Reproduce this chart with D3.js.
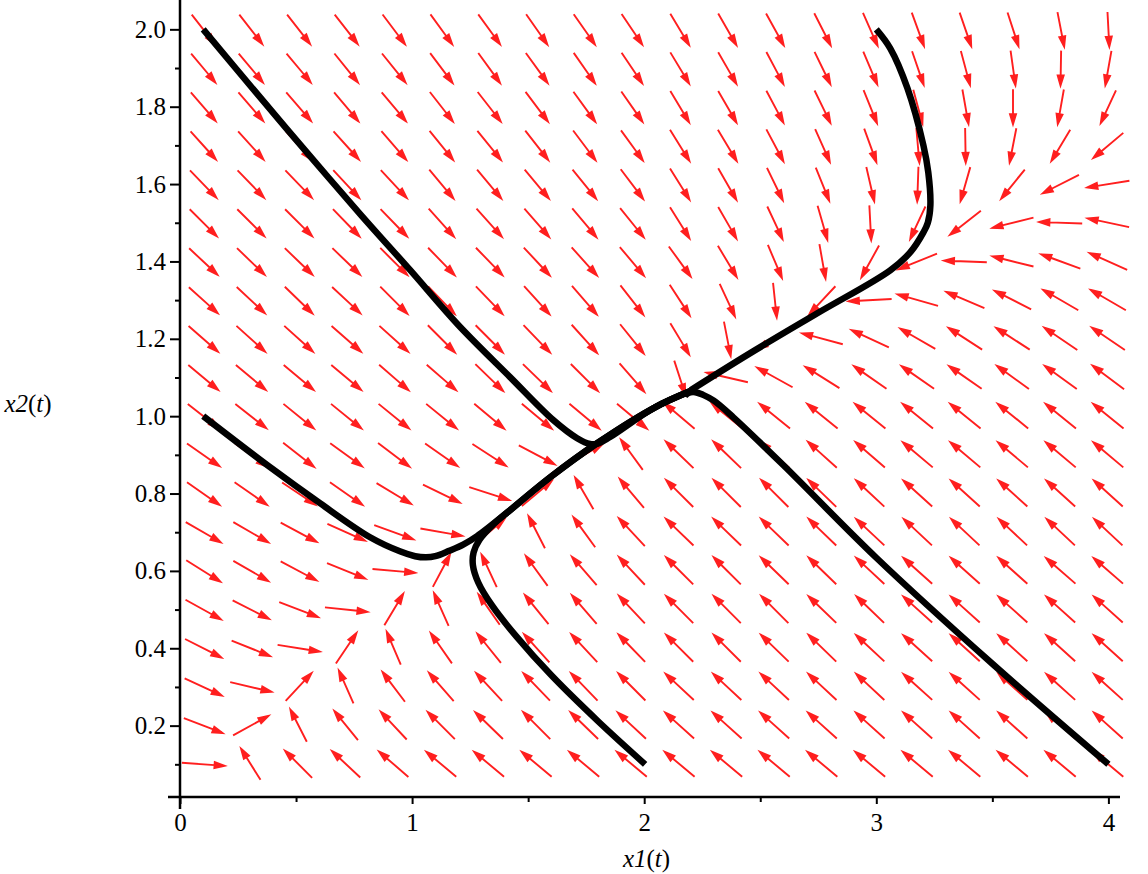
<!DOCTYPE html>
<html>
<head>
<meta charset="utf-8">
<script src="https://cdn.jsdelivr.net/npm/d3@7"></script>
<style>
  body { margin: 0; background: #fff; }
  text { font-family: "Liberation Serif", "Times New Roman", serif; fill: #000; }
</style>
</head>
<body>
<svg id="chart"></svg>
<script>
// arrow grid (20 x 20), x1 across, x2 rows listed top to bottom
const x1Grid = [0.1, 0.305, 0.511, 0.716, 0.921, 1.126, 1.332, 1.537, 1.742, 1.947,
                2.153, 2.358, 2.563, 2.768, 2.974, 3.179, 3.384, 3.589, 3.795, 4.0];
const x2Grid = [2.0, 1.9, 1.8, 1.7, 1.6, 1.5, 1.4, 1.3, 1.2, 1.1,
                1.0, 0.9, 0.8, 0.7, 0.6, 0.5, 0.4, 0.3, 0.2, 0.1];

// direction of each arrow as seen on the plot, degrees (0 = right, 90 = up)
const arrowAngles = [
  [-52,-52,-52,-52,-53,-54,-54,-55,-55,-56,-59,-60,-61,-63,-66,-70,-71,-72,-79,-87],
  [-50,-50,-50,-51,-51,-53,-54,-54,-55,-56,-59,-60,-62,-64,-67,-71,-75,-82,-91,-100],
  [-49,-49,-49,-50,-50,-52,-52,-53,-54,-55,-59,-60,-62,-64,-68,-75,-80,-90,-100,-115],
  [-48,-48,-48,-48,-49,-51,-51,-52,-53,-54,-58,-59,-62,-66,-70,-85,-89,-101,-121,-140],
  [-46,-46,-46,-47,-47,-50,-50,-50,-51,-53,-58,-60,-64,-68,-77,-92,-106,-129,-153,-171],
  [-45,-45,-45,-46,-46,-48,-48,-49,-50,-51,-58,-60,-65,-74,-87,-115,-142,-166,178,168],
  [-43,-44,-44,-44,-45,-46,-46,-47,-48,-50,-54,-59,-67,-80,-119,-158,178,166,160,156],
  [-42,-43,-44,-43,-45,-46,-46,-48,-49,-52,-57,-65,-84,-133,-177,164,157,153,150,150],
  [-41,-42,-42,-41,-42,-45,-45,-46,-48,-51,-59,-79,-150,165,155,150,147,147,146,146],
  [-40,-40,-40,-40,-41,-41,-44,-44,-45,-49,-72,167,151,148,145,145,145,144,144,143],
  [-38,-38,-39,-39,-39,-39,-40,-40,-40,-40,140,141,141,141,141,141,141,141,141,141],
  [-35,-36,-38,-36,-37,-35,-33,-28,30,126,136,136,138,138,139,140,140,140,140,140],
  [-35,-35,-34,-35,-31,-26,-18,40,120,130,135,135,135,136,137,138,138,138,138,138],
  [-30,-30,-28,-24,-20,-10,40,117,126,133,136,136,136,136,137,137,137,137,137,137],
  [-32,-30,-28,-22,-5,62,115,126,131,133,135,135,136,136,137,138,138,138,139,139],
  [-29,-27,-21,-6,59,114,125,129,131,133,135,135,135,136,136,138,138,138,138,138],
  [-27,-22,-9,56,113,125,129,132,133,134,135,135,136,136,137,138,138,138,138,138],
  [-25,-13,47,114,127,131,133,134,134,135,137,137,137,137,137,138,138,138,138,138],
  [-21,29,117,129,133,135,136,135,136,137,138,138,138,138,138,138,138,138,138,138],
  [-4,122,135,137,139,140,140,140,140,140,140,140,140,140,140,140,140,140,140,140]
];

// solution curves [x1, x2]
const trajFromTopLeft = [[0.1,2.0],[0.33,1.835],[0.552,1.678],[0.78,1.52],[0.991,1.378],[1.2,1.235],
  [1.422,1.101],[1.608,0.99],[1.711,0.943],[1.767,0.928],[1.80,0.929],[1.853,0.946],[2.047,1.023],[2.2,1.065]];
const trajFromLeft = [[0.1,1.0],[0.388,0.868],[0.603,0.775],[0.819,0.687],[0.95,0.65],[1.013,0.638],
  [1.06,0.635],[1.10,0.638],[1.16,0.652],[1.22,0.668],[1.28,0.69],[1.422,0.757],[1.595,0.842],
  [1.797,0.93],[2.047,1.023],[2.2,1.065]];
const trajFromBottom = [[2.004,0.1],[1.8,0.212],[1.6,0.33],[1.45,0.43],[1.345,0.51],[1.285,0.57],
  [1.262,0.615],[1.265,0.648],[1.29,0.68],[1.35,0.72],[1.422,0.757],[1.595,0.842],[1.797,0.93],
  [2.047,1.023],[2.2,1.065]];
const trajFromBottomRight = [[4.0,0.1],[3.5,0.36],[3.0,0.634],[2.6,0.873],[2.384,0.997],
  [2.3,1.04],[2.254,1.055],[2.22,1.062],[2.19,1.06],[2.175,1.052]];
const trajFromTop = [[3.0,2.0],[3.06,1.951],[3.134,1.848],[3.203,1.7],[3.224,1.63],[3.233,1.545],
  [3.222,1.5],[3.203,1.475],[3.147,1.424],[3.06,1.377],[2.746,1.266],[2.457,1.163],[2.2,1.067]];

const xTicks = [0, 1, 2, 3, 4];
const xMinorTicks = [0.5, 1.5, 2.5, 3.5];
const yTicks = [0.2, 0.4, 0.6, 0.8, 1.0, 1.2, 1.4, 1.6, 1.8, 2.0];
const yMinorTicks = [0.1, 0.3, 0.5, 0.7, 0.9, 1.1, 1.3, 1.5, 1.7, 1.9];

class PhasePlot {
  constructor(_config) {
    this.config = {
      parentElement: _config.parentElement,
      containerWidth: _config.containerWidth || 1148,
      containerHeight: _config.containerHeight || 874,
      margin: { top: 10, right: 28, bottom: 77, left: 180 }
    };
    this.initVis();
  }

  initVis() {
    let vis = this;
    vis.width = vis.config.containerWidth - vis.config.margin.left - vis.config.margin.right;
    vis.height = vis.config.containerHeight - vis.config.margin.top - vis.config.margin.bottom;

    vis.xScale = d3.scaleLinear().domain([0, 4.05]).range([0, vis.width]);
    vis.yScale = d3.scaleLinear().domain([0.0155, 2.05]).range([vis.height, 0]);

    vis.svg = d3.select(vis.config.parentElement)
      .attr('width', vis.config.containerWidth)
      .attr('height', vis.config.containerHeight);

    vis.chart = vis.svg.append('g')
      .attr('transform', `translate(${vis.config.margin.left},${vis.config.margin.top})`);

    vis.renderVis();
  }

  renderVis() {
    let vis = this;

    // direction field
    const cellX = vis.xScale(x1Grid[1]) - vis.xScale(x1Grid[0]);
    const cellY = vis.yScale(x2Grid[1]) - vis.yScale(x2Grid[0]);
    const arrows = [];
    x2Grid.forEach((y, r) => {
      x1Grid.forEach((x, c) => arrows.push({ x, y, a: arrowAngles[r][c] }));
    });

    const arrowPath = d => {
      const t = d.a * Math.PI / 180;
      const ux = Math.cos(t), uy = -Math.sin(t);
      const len = 0.9 / Math.hypot(ux / cellX, uy / cellY);
      const cx = vis.xScale(d.x), cy = vis.yScale(d.y);
      const x0 = cx - ux * len / 2, y0 = cy - uy * len / 2;
      const x1 = cx + ux * len / 2, y1 = cy + uy * len / 2;
      const hl = 10, hw = 3;
      const bx = x1 - ux * hl, by = y1 - uy * hl;
      return `M${x0},${y0}L${bx},${by}` +
        `M${x1},${y1}L${bx - uy * hw},${by + ux * hw}L${bx + uy * hw},${by - ux * hw}Z`;
    };

    vis.chart.append('g').selectAll('path')
      .data(arrows)
      .join('path')
      .attr('d', arrowPath)
      .attr('fill', '#ff1f1f')
      .attr('stroke', '#ff1f1f')
      .attr('stroke-width', 1.9)
      .attr('stroke-linejoin', 'miter');

    // solution curves
    vis.line = d3.line()
      .x(d => vis.xScale(d[0]))
      .y(d => vis.yScale(d[1]))
      .curve(d3.curveCatmullRom.alpha(0.5));

    vis.chart.append('g').selectAll('path')
      .data([trajFromTopLeft, trajFromLeft, trajFromBottom, trajFromBottomRight, trajFromTop])
      .join('path')
      .attr('d', vis.line)
      .attr('fill', 'none')
      .attr('stroke', '#000')
      .attr('stroke-width', 6.5)
      .attr('stroke-linejoin', 'round');

    // axes
    const xAxis = d3.axisBottom(vis.xScale).tickValues(xTicks).tickSize(7).tickPadding(9)
      .tickFormat(d3.format('d'));
    const xMinor = d3.axisBottom(vis.xScale).tickValues(xMinorTicks).tickSize(5).tickFormat('');
    const yAxis = d3.axisLeft(vis.yScale).tickValues(yTicks).tickSize(10).tickPadding(4)
      .tickFormat(d3.format('.1f'));
    const yMinor = d3.axisLeft(vis.yScale).tickValues(yMinorTicks).tickSize(5).tickFormat('');

    const xg = vis.chart.append('g').attr('transform', `translate(0,${vis.height})`);
    xg.append('g').call(xAxis);
    xg.append('g').call(xMinor);
    const yg = vis.chart.append('g');
    yg.append('g').call(yAxis);
    yg.append('g').call(yMinor);

    vis.chart.selectAll('.domain').remove();
    vis.chart.selectAll('.tick line').attr('stroke', '#000').attr('stroke-width', 2);
    vis.chart.selectAll('.tick text')
      .style('font-family', '"Liberation Serif", serif')
      .style('font-size', '25px')
      .attr('fill', '#000');

    vis.chart.append('line')
      .attr('x1', -12).attr('x2', vis.width)
      .attr('y1', vis.height).attr('y2', vis.height)
      .attr('stroke', '#000').attr('stroke-width', 2.5);
    vis.chart.append('line')
      .attr('x1', 0).attr('x2', 0)
      .attr('y1', -10).attr('y2', vis.height + 12)
      .attr('stroke', '#000').attr('stroke-width', 2.5);

    // axis titles
    const xt = vis.chart.append('text')
      .attr('x', vis.xScale(2.01)).attr('y', vis.height + 70)
      .attr('text-anchor', 'middle').style('font-size', '25px');
    xt.append('tspan').style('font-style', 'italic').text('x1');
    xt.append('tspan').text('(');
    xt.append('tspan').style('font-style', 'italic').text('t');
    xt.append('tspan').text(')');

    const yt = vis.chart.append('text')
      .attr('x', -152).attr('y', vis.yScale(1.01))
      .attr('text-anchor', 'middle').style('font-size', '25px');
    yt.append('tspan').style('font-style', 'italic').text('x2');
    yt.append('tspan').text('(');
    yt.append('tspan').style('font-style', 'italic').text('t');
    yt.append('tspan').text(')');
  }
}

new PhasePlot({ parentElement: '#chart' });
</script>
</body>
</html>
